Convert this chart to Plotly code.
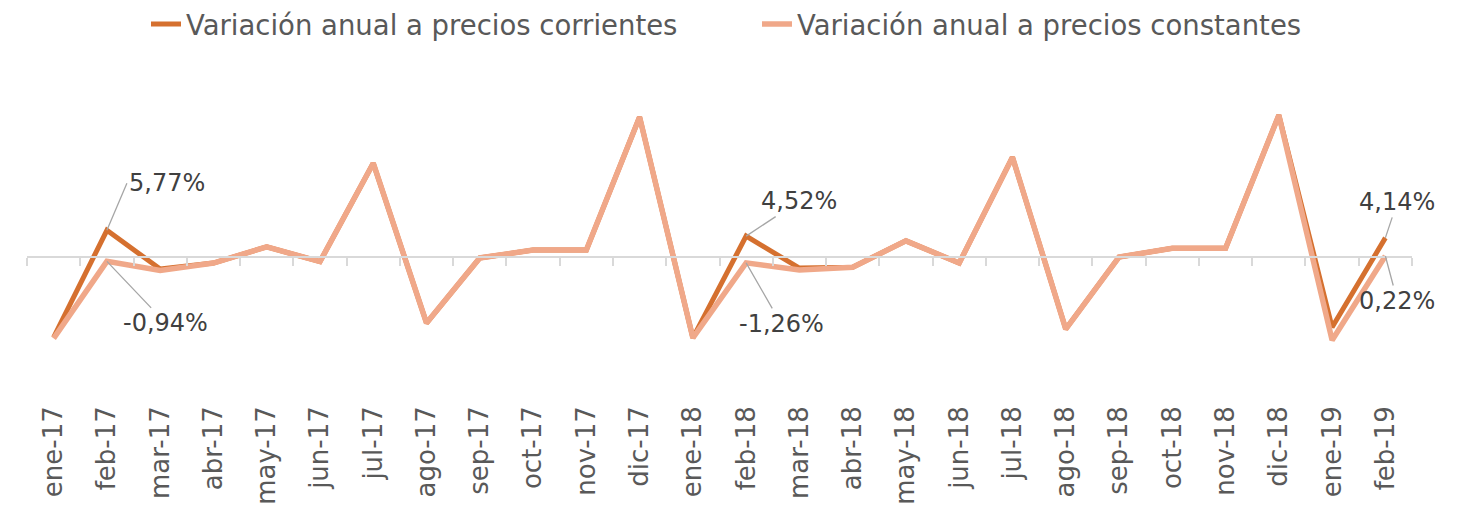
import plotly.graph_objects as go

categorias = ["ene-17", "feb-17", "mar-17", "abr-17", "may-17", "jun-17", "jul-17", "ago-17",
              "sep-17", "oct-17", "nov-17", "dic-17", "ene-18", "feb-18", "mar-18", "abr-18",
              "may-18", "jun-18", "jul-18", "ago-18", "sep-18", "oct-18", "nov-18", "dic-18",
              "ene-19", "feb-19"]

corrientes = [-17.4, 5.77, -2.6, -1.3, 2.2, -1.0, 20.3, -14.3, -0.2, 1.5, 1.5, 30.3,
              -17.5, 4.52, -2.4, -2.2, 3.5, -1.3, 21.6, -15.6, 0.0, 1.9, 1.9, 30.7,
              -15.2, 4.14]

constantes = [-17.6, -0.94, -2.9, -1.3, 2.2, -1.0, 20.3, -14.3, -0.2, 1.5, 1.5, 30.3,
              -17.5, -1.26, -2.8, -2.2, 3.5, -1.3, 21.6, -15.6, 0.0, 1.9, 1.9, 30.7,
              -18.0, 0.22]

etiquetas = [  # (serie, indice, texto, ax, ay)
    ("corrientes", 1, "5,77%", 20, -47),
    ("constantes", 1, "-0,94%", 59, 62),
    ("corrientes", 13, "4,52%", 53, -35),
    ("constantes", 13, "-1,26%", 35, 61),
    ("corrientes", 25, "4,14%", 12, -36),
    ("constantes", 25, "0,22%", 12, 45),
]

COL_CORR = "#D5702F"
COL_CONST = "#F0A889"
GRIS = "#595959"
FONT = "DejaVu Sans"

y_min, y_max = -30.95, 36.15

fig = go.Figure()
fig.add_trace(go.Scatter(x=categorias, y=corrientes, mode="lines",
                         name="Variación anual a precios corrientes",
                         line=dict(color=COL_CORR, width=5)))
fig.add_trace(go.Scatter(x=categorias, y=constantes, mode="lines",
                         name="Variación anual a precios constantes",
                         line=dict(color=COL_CONST, width=5.5)))
# invisible trace to carry the zero-line axis
fig.add_trace(go.Scatter(x=categorias, y=[0] * len(categorias), mode="lines",
                         xaxis="x2", line=dict(width=0), showlegend=False,
                         hoverinfo="skip"))

series = {"corrientes": corrientes, "constantes": constantes}
for s, i, txt, ax, ay in etiquetas:
    fig.add_annotation(x=categorias[i], y=series[s][i], text=txt, showarrow=True,
                       arrowhead=0, arrowwidth=1.3, arrowcolor="#A6A6A6",
                       ax=ax, ay=ay, font=dict(family=FONT, size=24, color="#404040"),
                       xanchor="left" if (s == "corrientes" and i == 1) else "center")

pos_zero = (0 - y_min) / (y_max - y_min)

fig.update_layout(
    width=1455, height=499,
    margin=dict(l=19, r=51, t=82, b=107, autoexpand=False),
    paper_bgcolor="white", plot_bgcolor="white",
    font=dict(family=FONT, color=GRIS),
    showlegend=True,
    legend=dict(orientation="h", x=(146 - 27) / 1385, xanchor="left", y=1 + 90.5 / 310,
                yanchor="top", yref="paper", font=dict(family=FONT, size=27.5, color=GRIS),
                entrywidth=566, entrywidthmode="pixels", tracegroupgap=0,
                bgcolor="rgba(0,0,0,0)"),
    xaxis=dict(type="category", range=[-0.5, len(categorias) - 0.5], showline=False,
               showgrid=False, zeroline=False, ticks="", tickangle=-90, automargin=False,
               tickfont=dict(family=FONT, size=26, color=GRIS)),
    xaxis2=dict(type="category", overlaying="x", anchor="free", position=pos_zero,
                range=[-0.5, len(categorias) - 0.5], showline=True, linecolor="#D9D9D9",
                linewidth=2, ticks="outside", ticklen=8, tickwidth=2, tickcolor="#D9D9D9",
                tickson="boundaries", showticklabels=False, showgrid=False, side="bottom",
                automargin=False),
    yaxis=dict(range=[y_min, y_max], visible=False, showgrid=False, zeroline=False,
               automargin=False),
)

fig.write_html("out.html")
